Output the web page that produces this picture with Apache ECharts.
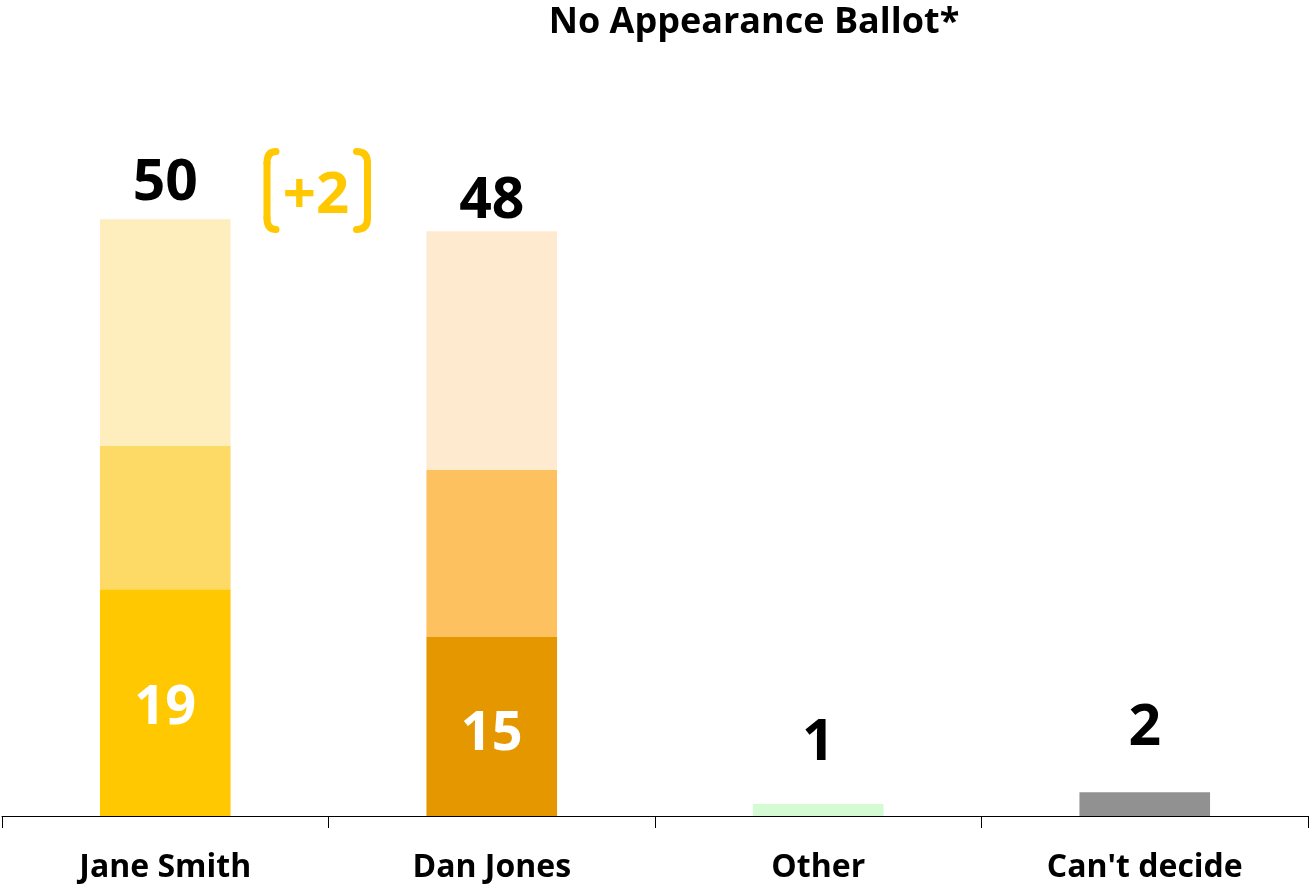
<!DOCTYPE html>
<html>
<head>
<meta charset="utf-8">
<script src="https://cdn.jsdelivr.net/npm/echarts@6/dist/echarts.min.js"></script>
<style>html,body{margin:0;padding:0;background:#fff}#c{width:1310px;height:886px}</style>
</head>
<body>
<div id="c"></div>
<script>
const categories = ["Jane Smith", "Dan Jones", "Other", "Can't decide"];
const baseValues = [19, 15, 1, 2];
const midValues = [12, 14, '-', '-'];
const topValues = [19, 20, '-', '-'];
const totals = [50, 48, 1, 2];
const baseColors = ['#FFC800', '#E59700', '#D4FBD4', '#919191'];
const midColors = ['#FDD966', '#FEC160'];
const topColors = ['#FEEDBD', '#FEEBCF'];
const innerLabels = [19, 15, null, null];
const titleText = 'No Appearance Ballot*';
const noteText = '+2';

const FONT = 'Open Sans';
const chart = echarts.init(document.getElementById('c'), null, {renderer: 'canvas'});

const totalDist = [7, 1, 32, 35];
const innerOffset = [6, 8, 0, 0];
const gold = '#FFC800';
const brStyle = {fill: null, stroke: gold, lineWidth: 7, lineCap: 'round'};

chart.setOption({
  animation: false,
  title: {
    text: titleText, left: 749, top: 0, textAlign: 'center',
    textStyle: {fontFamily: FONT, fontWeight: 'bold', fontSize: 36, color: '#000'}
  },
  grid: {left: 2, right: 2, top: 100, bottom: 70},
  xAxis: {
    type: 'category', data: categories,
    axisLine: {lineStyle: {color: '#000', width: 1}},
    axisTick: {show: true, length: 12, lineStyle: {color: '#000'}},
    axisLabel: {fontFamily: FONT, fontWeight: 'bold', fontSize: 32, color: '#000', margin: 36}
  },
  yAxis: {type: 'value', min: 0, max: 60, show: false, splitLine: {show: false}},
  series: [
    {
      type: 'bar', stack: 's', barWidth: '40%',
      data: baseValues.map((v, i) => ({value: v, itemStyle: {color: baseColors[i]},
        label: {offset: [0, innerOffset[i]]}})),
      label: {
        show: true, position: 'inside',
        formatter: p => innerLabels[p.dataIndex] == null ? '' : String(innerLabels[p.dataIndex]),
        fontFamily: FONT, fontWeight: 'bold', fontSize: 54, color: '#fff'
      }
    },
    {
      type: 'bar', stack: 's',
      data: midValues.map((v, i) => ({value: v, itemStyle: {color: midColors[i]}}))
    },
    {
      type: 'bar', stack: 's',
      data: topValues.map((v, i) => ({value: v, itemStyle: {color: topColors[i]}}))
    },
    {
      type: 'bar', stack: 's',
      data: totals.map((t, i) => ({value: 0, label: {distance: totalDist[i]}})),
      itemStyle: {color: 'transparent'},
      label: {
        show: true, position: 'top',
        formatter: p => String(totals[p.dataIndex]),
        fontFamily: FONT, fontWeight: 'bold', fontSize: 57, color: '#000'
      }
    }
  ],
  graphic: [
    {type: 'bezierCurve', shape: {x1: 276, y1: 151.5, cpx1: 267, cpy1: 151.5, x2: 267, y2: 163}, style: brStyle},
    {type: 'line', shape: {x1: 267, y1: 163, x2: 267, y2: 218}, style: brStyle},
    {type: 'bezierCurve', shape: {x1: 267, y1: 218, cpx1: 267, cpy1: 229.5, x2: 276, y2: 229.5}, style: brStyle},
    {type: 'bezierCurve', shape: {x1: 356.5, y1: 151.5, cpx1: 367.5, cpy1: 151.5, x2: 367.5, y2: 163}, style: brStyle},
    {type: 'line', shape: {x1: 367.5, y1: 163, x2: 367.5, y2: 218}, style: brStyle},
    {type: 'bezierCurve', shape: {x1: 367.5, y1: 218, cpx1: 367.5, cpy1: 229.5, x2: 356.5, y2: 229.5}, style: brStyle},
    {
      type: 'text', x: 316, y: 196,
      style: {text: noteText, fill: gold, fontFamily: FONT, fontWeight: 'bold', fontSize: 58,
              align: 'center', verticalAlign: 'middle'}
    }
  ]
});
</script>
</body>
</html>
